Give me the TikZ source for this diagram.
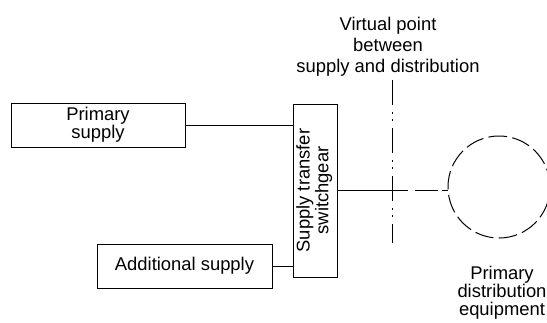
\documentclass[tikz,border=0pt]{standalone}
\usepackage{fontspec}
\usepackage{graphicx}
\setmainfont{Liberation Sans}
\begin{document}
\begin{tikzpicture}[x=0.75pt,y=-0.75pt,
  lbl/.style={font=\fontsize{13.8}{13.5}\selectfont, align=center, inner sep=0pt},
  boxnode/.style={draw, line width=0.75pt, rectangle, inner sep=0pt, font=\fontsize{13.8}{13.5}\selectfont, align=center},
  wire/.style={line width=0.75pt},
  dashwire/.style={line width=0.75pt, dash pattern=on 17.25pt off 3pt},
  dashdotdot/.style={line width=0.75pt, dash pattern=on 18.75pt off 5.25pt on 1.5pt off 3.75pt on 1.5pt off 5.25pt},
  dashcircle/.style={draw, circle, line width=0.75pt, dash pattern=on 14pt off 4pt, inner sep=0pt}]
\useasboundingbox (0,0) rectangle (547,322);

% boxes
\node[boxnode, minimum width=130.5pt, minimum height=33pt] (prim) at (98,125) {Primary\\supply};
\node[boxnode, minimum width=131.25pt, minimum height=33pt] (add) at (184.5,266) {Additional supply};
\node[boxnode, minimum width=33pt, minimum height=129.75pt] (sw) at (315,190.5)
  {\rotatebox{90}{\begin{tabular}{@{}c@{}}Supply transfer\\switchgear\end{tabular}}};
\node[dashcircle, minimum size=76.5pt] (pde) at (499,187) {};

% labels
\node[lbl, font=\fontsize{13.8}{15.75}\selectfont] (vplabel) at (388,47) {Virtual point\\between\\supply and distribution};
\node[lbl] (pdelabel) at (502,293) {Primary\\distribution\\equipment};

% virtual point line
\coordinate (vtop) at (392,80);
\coordinate (vbot) at (392,243);
\draw[dashdotdot] (vtop) -- (vbot);

% connectors
\draw[wire] (prim.east) -- (prim.east -| sw.west);
\draw[wire] (add.east) -- (add.east -| sw.west);
\coordinate (gapA) at (408,190.5);
\coordinate (gapB) at (415,190.5);
\draw[wire] (sw.east) -- (gapA);
\draw[dashwire] (gapB) -- (gapB -| pde.west);
\end{tikzpicture}
\end{document}
